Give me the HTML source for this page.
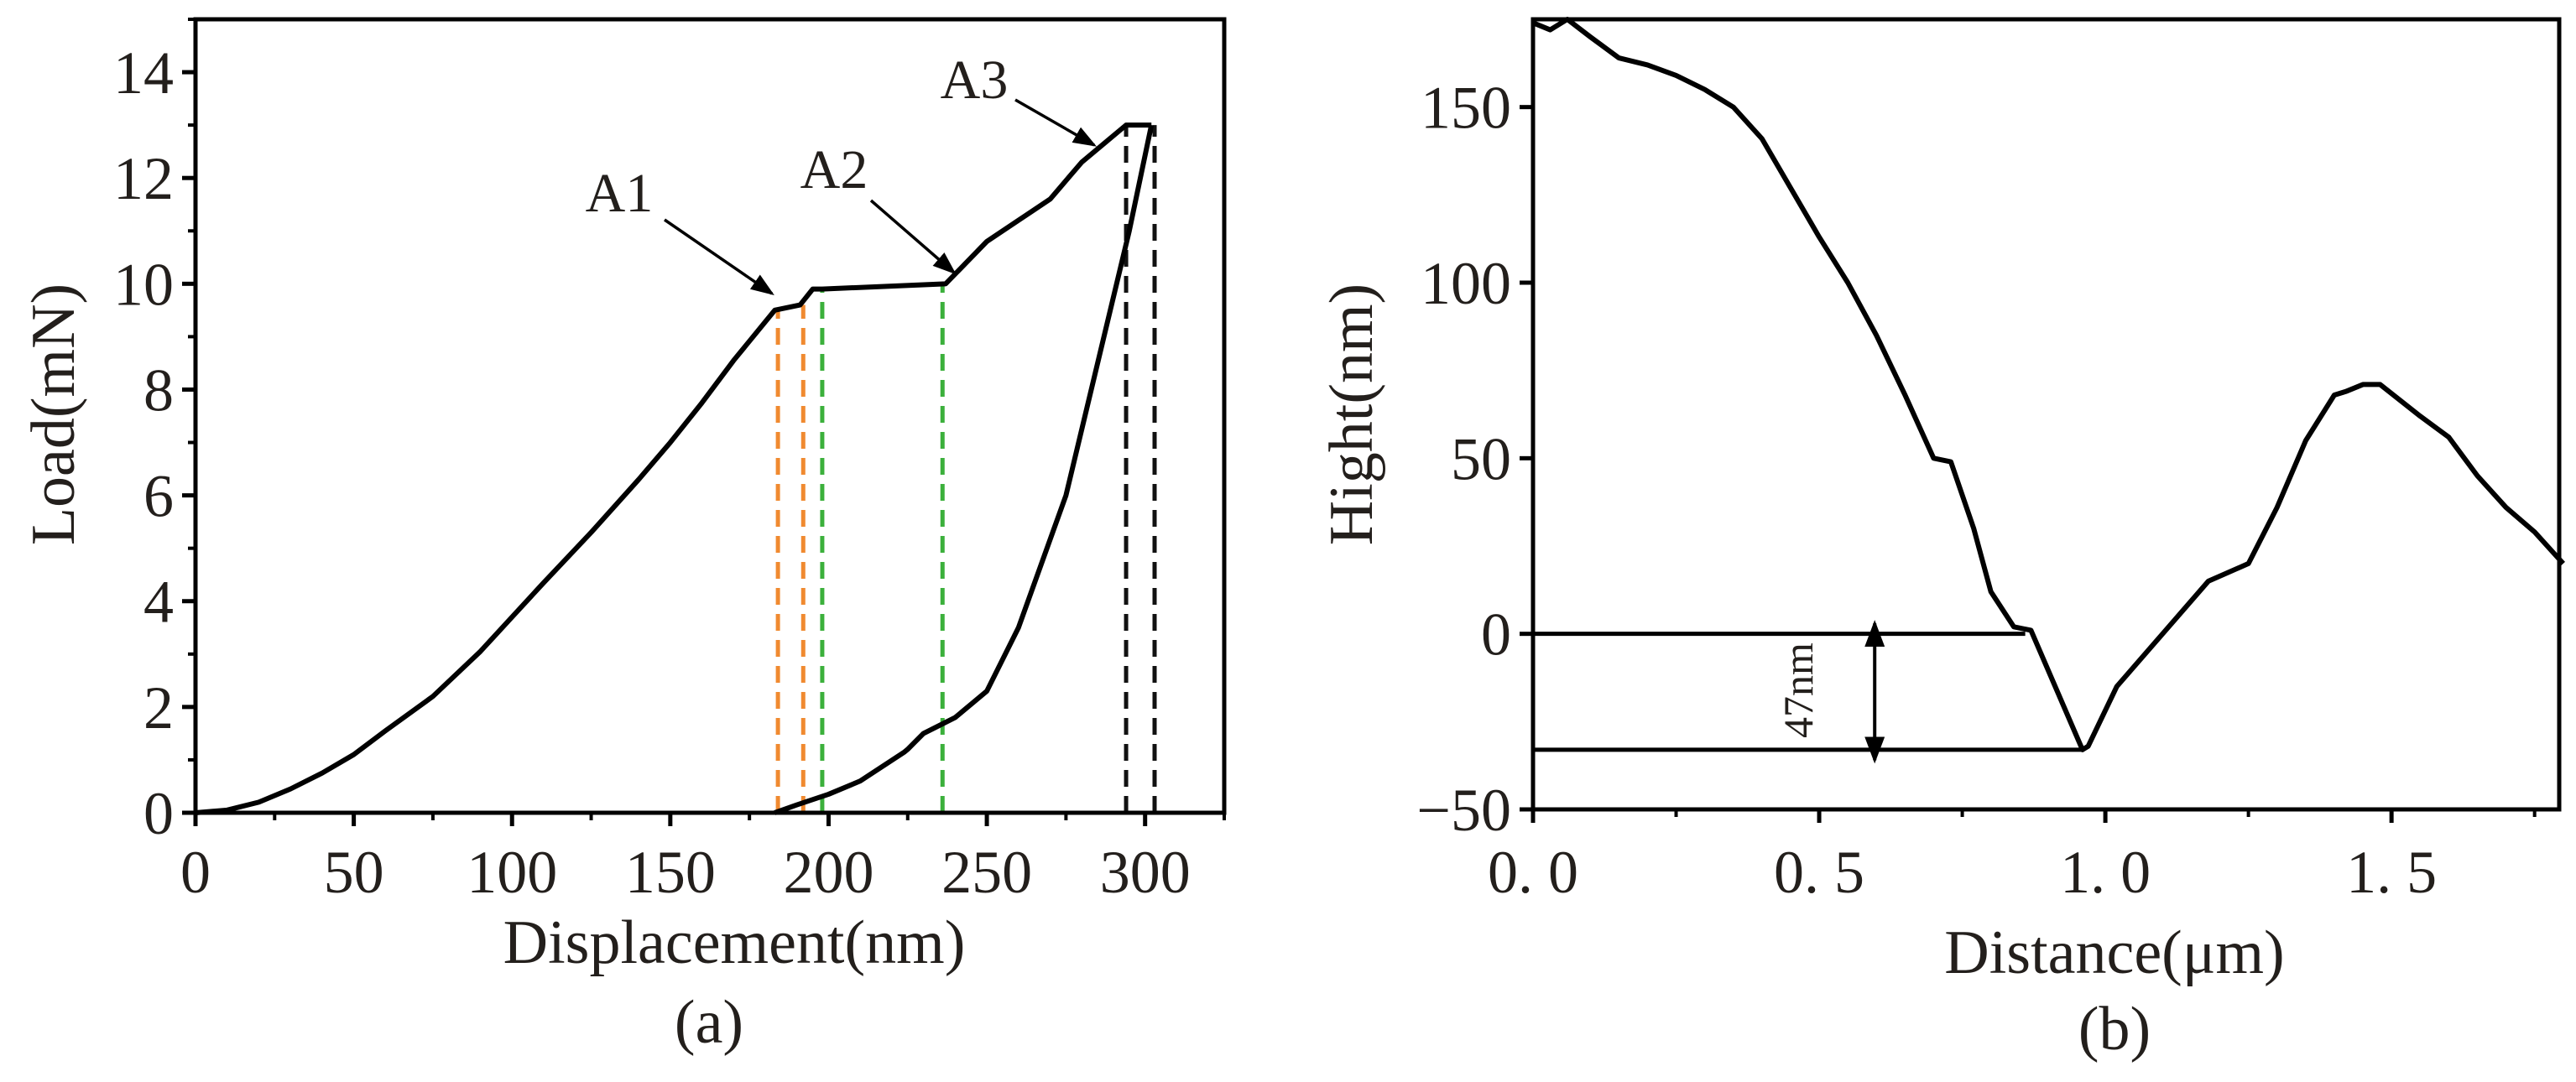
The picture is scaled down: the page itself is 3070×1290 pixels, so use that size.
<!DOCTYPE html>
<html><head><meta charset="utf-8">
<style>
html,body{margin:0;padding:0;background:#fff;}
svg{display:block;}
text{font-family:"Liberation Serif","Noto Serif CJK SC",serif;fill:#231f1c;}
</style></head>
<body>
<svg id="chart" width="3070" height="1290" viewBox="0 0 3070 1290" xmlns="http://www.w3.org/2000/svg">
<g id="pa"></g>
<g id="pb"></g>
</svg>
<script>
// Panel (a) data
const aLoadX = [0,10,20,30,40,50,60,75,90,100,110,125,140,150,160,170,183,191,195,198,237,250,260,270,280,288,294,302];
const aLoadY = [0,0.05,0.2,0.45,0.75,1.1,1.55,2.2,3.05,3.7,4.35,5.3,6.3,7.0,7.75,8.55,9.5,9.6,9.9,9.9,10.0,10.8,11.2,11.6,12.3,12.7,13.0,13.0];
const aUnX = [302,295,285,275,260,250,246,240,230,225,224,210,200,190,183];
const aUnY = [13,11,8.5,6,3.5,2.3,2.1,1.8,1.5,1.2,1.15,0.6,0.35,0.15,0];
const aDashX = [184,192,198,236,294,303];
const aDashY = [9.5,9.6,9.9,10.0,13,13];
const aDashC = ["#f08a30","#f08a30","#3bb03b","#3bb03b","#111","#111"];
const aXTicks = [0,50,100,150,200,250,300];
const aYTicks = [0,2,4,6,8,10,12,14];
// Panel (b) data
const bX = [0,0.03,0.06,0.1,0.15,0.2,0.25,0.3,0.35,0.4,0.45,0.5,0.55,0.6,0.65,0.7,0.73,0.77,0.8,0.84,0.87,0.96,0.97,1.02,1.1,1.18,1.25,1.3,1.35,1.4,1.42,1.45,1.48,1.55,1.6,1.65,1.7,1.75,1.8];
const bY = [174,172,175,170,164,162,159,155,150,141,127,113,100,85,68,50,49,30,12,2,1,-33,-32,-15,0,15,20,36,55,68,69,71,71,62,56,45,36,29,20];
const bXTicks = [0,0.5,1.0,1.5];
const bXLabels = ["0. 0","0. 5","1. 0","1. 5"];
const bYTicks = [-50,0,50,100,150];

const NS="http://www.w3.org/2000/svg";
function mk(parent,tag,attrs,txt){const e=document.createElementNS(NS,tag);for(const k in attrs)e.setAttribute(k,attrs[k]);if(txt!==undefined)e.textContent=txt;parent.appendChild(e);return e;}
const svg=document.getElementById('chart');
const defs=mk(svg,'defs',{});
const mA=mk(defs,'marker',{id:'ah',markerWidth:8,markerHeight:6,refX:7,refY:3,orient:'auto',markerUnits:'strokeWidth'});
mk(mA,'path',{d:'M0,0 L8,3 L0,6 Z',fill:'#000'});
const mB=mk(defs,'marker',{id:'ah2',markerWidth:8,markerHeight:6,refX:1,refY:3,orient:'auto',markerUnits:'strokeWidth'});
mk(mB,'path',{d:'M8,0 L0,3 L8,6 Z',fill:'#000'});

// ---- Panel a
const pa=document.getElementById('pa');
const ax={l:233,r:1459,t:23,b:969,x0:0,x1:325,y0:0,y1:15};
const axX=v=>ax.l+(v-ax.x0)/(ax.x1-ax.x0)*(ax.r-ax.l);
const axY=v=>ax.b-(v-ax.y0)/(ax.y1-ax.y0)*(ax.b-ax.t);
for(let i=0;i<aDashX.length;i++){
  const d=mk(pa,'line',{x1:axX(aDashX[i]),x2:axX(aDashX[i]),y1:axY(0),y2:axY(aDashY[i]),stroke:aDashC[i],'stroke-width':5,'stroke-dasharray':'20,11'});
  
  
}
let p=aLoadX.map((x,i)=>(i?'L':'M')+axX(x)+','+axY(aLoadY[i])).join('');
const lc=mk(pa,'path',{d:p,fill:'none',stroke:'#000','stroke-width':6,'stroke-linejoin':'round'});


p=aUnX.map((x,i)=>(i?'L':'M')+axX(x)+','+axY(aUnY[i])).join('');
const uc=mk(pa,'path',{d:p,fill:'none',stroke:'#000','stroke-width':6,'stroke-linejoin':'round'});


mk(pa,'rect',{x:ax.l,y:ax.t,width:ax.r-ax.l,height:ax.b-ax.t,fill:'none',stroke:'#000','stroke-width':5,});
aXTicks.forEach(v=>{mk(pa,'line',{x1:axX(v),x2:axX(v),y1:ax.b,y2:ax.b+16,stroke:'#000','stroke-width':5});
  mk(pa,'line',{x1:axX(v+25),x2:axX(v+25),y1:ax.b,y2:ax.b+9,stroke:'#000','stroke-width':4});
  const t=mk(pa,'text',{x:axX(v),y:1064,'font-size':72,'text-anchor':'middle'},String(v));
  });
aYTicks.forEach(v=>{mk(pa,'line',{x1:ax.l-16,x2:ax.l,y1:axY(v),y2:axY(v),stroke:'#000','stroke-width':5});
  mk(pa,'line',{x1:ax.l-9,x2:ax.l,y1:axY(v+1),y2:axY(v+1),stroke:'#000','stroke-width':4});
  const t=mk(pa,'text',{x:ax.l-26,y:axY(v)+25,'font-size':72,'text-anchor':'end'},String(v));
  });
mk(pa,'text',{x:875,y:1148,'font-size':74,'text-anchor':'middle',},'Displacement(nm)');
mk(pa,'text',{x:0,y:0,'font-size':74,'text-anchor':'middle',transform:'translate(88,494) rotate(-90)',},'Load(mN)');
mk(pa,'text',{x:845,y:1243,'font-size':74,'text-anchor':'middle',},'(a)');
[['A1',738,252,792,262,920,350],['A2',994,224,1038,239,1137,325],['A3',1161,117,1210,119,1304,173]].forEach(a=>{
  const t=mk(pa,'text',{x:a[1],y:a[2],'font-size':66,'text-anchor':'middle'},a[0]);
  
  mk(pa,'line',{x1:a[3],y1:a[4],x2:a[5],y2:a[6],stroke:'#000','stroke-width':3.5,'marker-end':'url(#ah)'});
});

// ---- Panel b
const pb=document.getElementById('pb');
const bx={l:1827,r:3050,t:23,b:965,x0:0,x1:1.793,y0:-50,y1:175};
const bxX=v=>bx.l+(v-bx.x0)/(bx.x1-bx.x0)*(bx.r-bx.l);
const bxY=v=>bx.b-(v-bx.y0)/(bx.y1-bx.y0)*(bx.b-bx.t);
p=bX.map((x,i)=>(i?'L':'M')+bxX(x)+','+bxY(bY[i])).join('');
const pc=mk(pb,'path',{d:p,fill:'none',stroke:'#000','stroke-width':6,'stroke-linejoin':'round'});


mk(pb,'line',{x1:bxX(0),x2:bxX(0.86),y1:bxY(0),y2:bxY(0),stroke:'#000','stroke-width':5,});
mk(pb,'line',{x1:bxX(0),x2:bxX(0.96),y1:bxY(-33),y2:bxY(-33),stroke:'#000','stroke-width':5,});
mk(pb,'line',{x1:bxX(0.597),x2:bxX(0.597),y1:bxY(3),y2:bxY(-36),stroke:'#000','stroke-width':4,'marker-end':'url(#ah)','marker-start':'url(#ah2)',});
mk(pb,'text',{x:0,y:0,'font-size':50,'text-anchor':'middle',transform:'translate(2160,823) rotate(-90)',},'47nm');
mk(pb,'rect',{x:bx.l,y:bx.t,width:bx.r-bx.l,height:bx.b-bx.t,fill:'none',stroke:'#000','stroke-width':5,});
bXTicks.forEach((v,i)=>{mk(pb,'line',{x1:bxX(v),x2:bxX(v),y1:bx.b,y2:bx.b+16,stroke:'#000','stroke-width':5});
  mk(pb,'line',{x1:bxX(v+0.25),x2:bxX(v+0.25),y1:bx.b,y2:bx.b+9,stroke:'#000','stroke-width':4});
  const t=mk(pb,'text',{x:bxX(v),y:1064,'font-size':72,'text-anchor':'middle'},bXLabels[i]);
  });
bYTicks.forEach(v=>{mk(pb,'line',{x1:bx.l-16,x2:bx.l,y1:bxY(v),y2:bxY(v),stroke:'#000','stroke-width':5});
  const t=mk(pb,'text',{x:bx.l-26,y:bxY(v)+25,'font-size':72,'text-anchor':'end'},v<0?'\u2212'+(-v):String(v));
  });
mk(pb,'text',{x:2520,y:1160,'font-size':74,'text-anchor':'middle',},'Distance(μm)');
mk(pb,'text',{x:0,y:0,'font-size':74,'text-anchor':'middle',transform:'translate(1635,494) rotate(-90)',},'Hight(nm)');
mk(pb,'text',{x:2520,y:1251,'font-size':74,'text-anchor':'middle',},'(b)');
</script>
</body></html>
